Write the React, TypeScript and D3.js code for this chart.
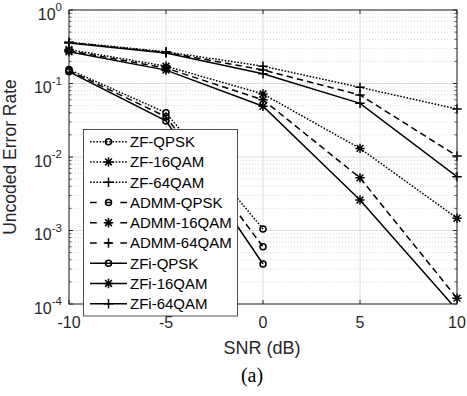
import React from "react";
import * as d3 from "d3";

const snr = [-10, -5, 0, 5, 10];
const zfQpsk = [0.155, 0.04, 1.05e-3];
const admmQpsk = [0.15, 0.0353, 6.0e-4];
const zfiQpsk = [0.145, 0.031, 3.5e-4];
const zf16 = [0.29, 0.172, 0.072, 0.0131, 1.47e-3];
const admm16 = [0.28, 0.162, 0.06, 5.2e-3, 1.2e-4];
const zfi16 = [0.27, 0.152, 0.049, 2.6e-3, 8.3e-5];
const zf64 = [0.365, 0.27, 0.172, 0.0887, 0.045];
const admm64 = [0.36, 0.265, 0.153, 0.0698, 0.0103];
const zfi64 = [0.355, 0.26, 0.136, 0.0537, 5.4e-3];

const xTicks = [-10, -5, 0, 5, 10];
const yDecades = [0, -1, -2, -3, -4];

type Style = "dot" | "dash" | "solid";
type Marker = "o" | "*" | "+";
const series: { name: string; values: number[]; style: Style; marker: Marker }[] = [
  { name: "ZF-QPSK", values: zfQpsk, style: "dot", marker: "o" },
  { name: "ZF-16QAM", values: zf16, style: "dot", marker: "*" },
  { name: "ZF-64QAM", values: zf64, style: "dot", marker: "+" },
  { name: "ADMM-QPSK", values: admmQpsk, style: "dash", marker: "o" },
  { name: "ADMM-16QAM", values: admm16, style: "dash", marker: "*" },
  { name: "ADMM-64QAM", values: admm64, style: "dash", marker: "+" },
  { name: "ZFi-QPSK", values: zfiQpsk, style: "solid", marker: "o" },
  { name: "ZFi-16QAM", values: zfi16, style: "solid", marker: "*" },
  { name: "ZFi-64QAM", values: zfi64, style: "solid", marker: "+" },
];

const L = 69, R = 457, T = 10, B = 304;
const FONT = "'Liberation Sans', Arial, Helvetica, sans-serif";
const AX = "#262626";

const dashFor = (s: Style) => (s === "dot" ? "1.6 1.6" : s === "dash" ? "6.5 4" : undefined);
const legendDash = (s: Style) => (s === "dot" ? "1.6 1.6" : s === "dash" ? "6.7 8.45" : undefined);

function MarkerShape({ m, x, y }: { m: Marker; x: number; y: number }) {
  const s = 4.7;
  const d = 3.4;
  if (m === "o") return <circle cx={x} cy={y} r={3} fill="none" stroke="#000" strokeWidth={1.5} />;
  if (m === "+")
    return (
      <path d={`M${x - s},${y}H${x + s}M${x},${y - s}V${y + s}`} stroke="#000" strokeWidth={1.5} fill="none" />
    );
  return (
    <path
      d={`M${x - s},${y}H${x + s}M${x},${y - s}V${y + s}M${x - d},${y - d}L${x + d},${y + d}M${x - d},${y + d}L${x + d},${y - d}`}
      stroke="#000"
      strokeWidth={1.5}
      fill="none"
    />
  );
}

export default function App() {
  const x = d3.scaleLinear().domain([-10, 10]).range([L, R]);
  const y = d3.scaleLog().domain([1e-4, 1]).range([B, T]);
  const line = d3
    .line<number>()
    .x((_, i) => x(snr[i]))
    .y((v) => y(v));

  const minors: number[] = [];
  for (let e = -4; e < 0; e++) for (let k = 2; k <= 9; k++) minors.push(k * Math.pow(10, e));

  const rowY0 = 141.7, rowStep = 20.25;

  return (
    <svg width={467} height={396} style={{ position: "absolute", left: 0, top: 0 }} fontFamily={FONT}>
      <defs>
        <clipPath id="plot">
          <rect x={L} y={T} width={R - L} height={B - T} />
        </clipPath>
      </defs>
      <rect x={0} y={0} width={467} height={396} fill="#fff" />
      {/* minor grid */}
      {minors.map((v, i) => (
        <line key={"mg" + i} x1={L} x2={R} y1={y(v)} y2={y(v)} stroke="#c8c8c8" strokeWidth={0.7} strokeDasharray="1 2" />
      ))}
      {/* major grid */}
      {yDecades.map((e) => (
        <line key={"yg" + e} x1={L} x2={R} y1={y(Math.pow(10, e))} y2={y(Math.pow(10, e))} stroke="#dedede" strokeWidth={1} />
      ))}
      {xTicks.map((t) => (
        <line key={"xg" + t} x1={x(t)} x2={x(t)} y1={T} y2={B} stroke="#dedede" strokeWidth={1} />
      ))}
      {/* series lines */}
      <g clipPath="url(#plot)">
        {series.map((s) => (
          <path
            key={s.name}
            d={line(s.values) || ""}
            fill="none"
            stroke="#000"
            strokeWidth={1.5}
            strokeDasharray={dashFor(s.style)}
          />
        ))}
      </g>
      {/* markers */}
      {series.map((s) =>
        s.values.map((v, i) =>
          v >= 1e-4 ? <MarkerShape key={s.name + i} m={s.marker} x={x(snr[i])} y={y(v)} /> : null
        )
      )}
      {/* axes box */}
      <rect x={L} y={T} width={R - L} height={B - T} fill="none" stroke={AX} strokeWidth={1} />
      {/* ticks */}
      {xTicks.map((t) => (
        <g key={"xt" + t} stroke={AX} strokeWidth={1}>
          <line x1={x(t)} x2={x(t)} y1={B} y2={B - 4} />
          <line x1={x(t)} x2={x(t)} y1={T} y2={T + 4} />
        </g>
      ))}
      {yDecades.map((e) => (
        <g key={"yt" + e} stroke={AX} strokeWidth={1}>
          <line x1={L} x2={L + 4} y1={y(Math.pow(10, e))} y2={y(Math.pow(10, e))} />
          <line x1={R} x2={R - 4} y1={y(Math.pow(10, e))} y2={y(Math.pow(10, e))} />
        </g>
      ))}
      {minors.map((v, i) => (
        <g key={"mt" + i} stroke={AX} strokeWidth={0.8}>
          <line x1={L} x2={L + 2.5} y1={y(v)} y2={y(v)} />
          <line x1={R} x2={R - 2.5} y1={y(v)} y2={y(v)} />
        </g>
      ))}
      {/* tick labels */}
      {xTicks.map((t) => (
        <text key={"xl" + t} x={x(t)} y={328} textAnchor="middle" fontSize={16} fill={AX}>
          {String(t)}
        </text>
      ))}
      {yDecades.map((e) => (
        <text key={"yl" + e} x={62} y={y(Math.pow(10, e)) + 9.5} textAnchor="end" fontSize={16} fill={AX}>
          10
          <tspan dy={-8.5} fontSize={11.5}>
            {String(e)}
          </tspan>
        </text>
      ))}
      {/* axis labels */}
      <text x={262} y={354} textAnchor="middle" fontSize={18} fill={AX}>
        SNR (dB)
      </text>
      <text transform={`translate(15.5,${(T + B) / 2}) rotate(-90)`} textAnchor="middle" fontSize={17.5} fill={AX}>
        Uncoded Error Rate
      </text>
      <text x={252} y={382} textAnchor="middle" fontSize={20} fontFamily="'Liberation Serif', 'Times New Roman', serif" fill="#000">
        (a)
      </text>
      {/* legend */}
      <rect x={83.5} y={129.5} width={154} height={186.5} fill="#fff" stroke={AX} strokeWidth={0.8} />
      {series.map((s, i) => {
        const ry = rowY0 + i * rowStep;
        return (
          <g key={"lg" + s.name}>
            <line x1={90} x2={127} y1={ry} y2={ry} stroke="#000" strokeWidth={1.5} strokeDasharray={legendDash(s.style)} />
            <MarkerShape m={s.marker} x={108.5} y={ry} />
            <text x={130} y={ry + 5.5} fontSize={15} fill="#000">
              {s.name}
            </text>
          </g>
        );
      })}
    </svg>
  );
}
